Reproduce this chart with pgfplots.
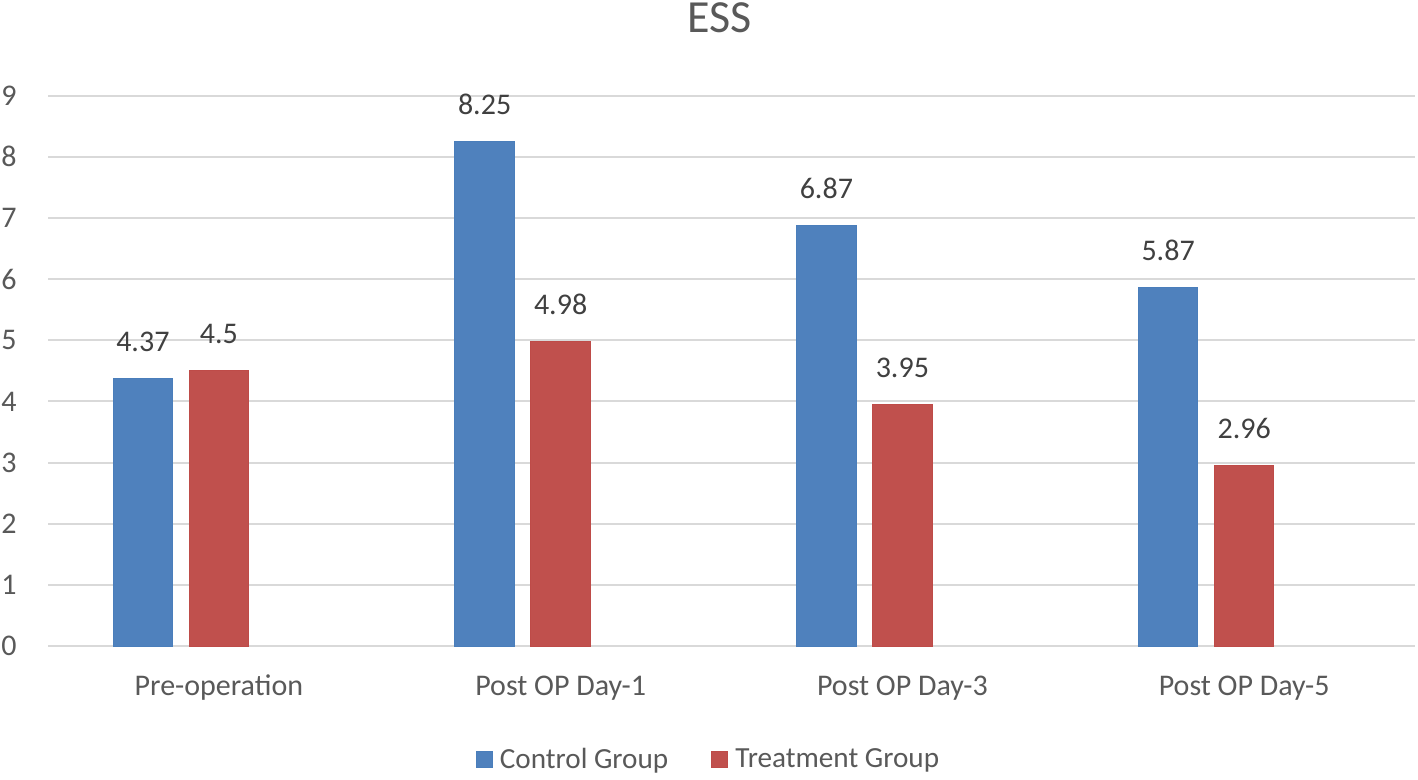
\documentclass[border=0pt]{standalone}
\usepackage{fontspec}
\setmainfont{Carlito}
\usepackage{pgfplots}
\pgfplotsset{compat=1.18}
\definecolor{ctrl}{HTML}{4F81BD}
\definecolor{ctrlb}{HTML}{4A7EBB}
\definecolor{trt}{HTML}{C0504D}
\definecolor{trtb}{HTML}{BE4B48}
\definecolor{gridc}{HTML}{D9D9D9}
\definecolor{txt}{HTML}{595959}
\definecolor{lbl}{HTML}{404040}
\begin{document}
\begin{tikzpicture}
\useasboundingbox (-24bp,-67bp) rectangle (685bp,323bp);
\begin{axis}[
  at={(0,0)}, anchor=south west,
  scale only axis,
  width=683.5bp, height=275.15bp,
  xmin=-0.5, xmax=3.5, ymin=0, ymax=9,
  enlargelimits=false, clip=false,
  ybar, bar width=0.1744,
  axis line style={draw=none},
  major tick length=0pt,
  ymajorgrids, grid style={gridc, line width=1bp},
  ytick={0,1,...,9},
  xtick={0,1,2,3},
  xticklabels={Pre-operation, Post OP Day-1, Post OP Day-3, Post OP Day-5},
  /pgf/number format/assume math mode=true,
  ticklabel style={font=\fontsize{15bp}{18bp}\selectfont, text=txt},
  yticklabel style={anchor=east, inner sep=0pt, xshift=-15.5bp},
  xticklabel style={anchor=base, inner sep=0pt, yshift=-24.5bp},
  nodes near coords,
  nodes near coords style={anchor=base, inner sep=0pt, yshift=13.5bp, font=\fontsize{15bp}{18bp}\selectfont, text=lbl, /pgf/number format/assume math mode=true},
  point meta=explicit symbolic,
  title={ESS},
  title style={at={(0.491,1.094)}, anchor=base, inner sep=0pt, font=\fontsize{23bp}{27bp}\selectfont, text=txt},
  legend style={at={(0.485,-0.207)}, anchor=center, draw=none, fill=none,
    legend columns=2, font=\fontsize{14.6bp}{17bp}\selectfont, text=txt,
    nodes={inner xsep=3.5bp, inner ysep=0pt},
    /tikz/every even column/.append style={column sep=18bp},
    /tikz/every odd column/.append style={column sep=0bp},
    legend cell align=left, inner sep=0pt},
  legend image code/.code={\draw[#1] (0bp,-4bp) rectangle (8bp,4bp);},
]
\addplot[fill=ctrl, draw=ctrlb, line width=0.5bp, bar shift=-0.2224] coordinates {(0,4.37)[4.37] (1,8.25)[8.25] (2,6.87)[6.87] (3,5.87)[5.87]};
\addlegendentry{Control Group}
\addplot[fill=trt, draw=trtb, line width=0.5bp, bar shift=0] coordinates {(0,4.5)[4.5] (1,4.98)[4.98] (2,3.95)[3.95] (3,2.96)[2.96]};
\addlegendentry{Treatment Group}
\end{axis}
\end{tikzpicture}
\end{document}
